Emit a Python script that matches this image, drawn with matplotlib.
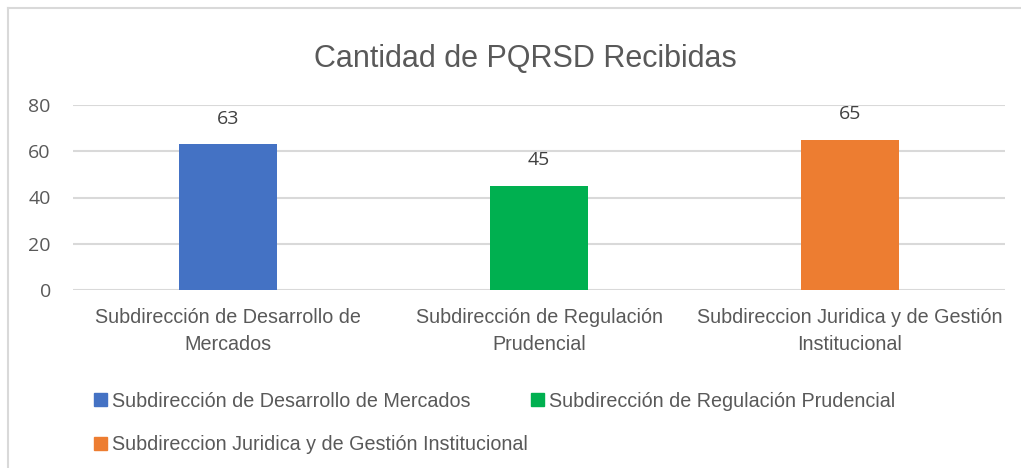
import matplotlib
matplotlib.use("Agg")
import matplotlib.pyplot as plt
from matplotlib import font_manager
from matplotlib.lines import Line2D
from matplotlib.patches import Rectangle

# chart data
categories = ["Subdirección de Desarrollo de\nMercados",
              "Subdirección de Regulación\nPrudencial",
              "Subdireccion Juridica y de Gestión\nInstitucional"]
legend_labels = ["Subdirección de Desarrollo de Mercados",
                 "Subdirección de Regulación Prudencial",
                 "Subdireccion Juridica y de Gestión Institucional"]
values = [63, 45, 65]
yticks = [0, 20, 40, 60, 80]
title = "Cantidad de PQRSD Recibidas"

colors = ["#4472C4", "#00B050", "#ED7D31"]
GREY = "#595959"

installed = {f.name for f in font_manager.fontManager.ttflist}
narrow = "Liberation Sans Narrow" if "Liberation Sans Narrow" in installed else "Liberation Sans"
body = "Open Sans"

W, H = 1021, 468
fig = plt.figure(figsize=(W / 100, H / 100), dpi=100)

# light frame: only the top and left edges show in the picture
frame = dict(transform=fig.transFigure, color="#D9D9D9", linewidth=1.5)
fig.lines.append(Line2D([8 / W, 1], [1 - 8 / H, 1 - 8 / H], **frame))
fig.lines.append(Line2D([8 / W, 8 / W], [0, 1 - 8 / H], **frame))

ax = fig.add_axes([73 / W, 1 - 290 / H, (1005 - 73) / W, (290 - 105) / H])
x = range(len(values))
bars = ax.bar(x, values, width=0.315, color=colors)

ax.set_xlim(-0.5, 2.5)
ax.set_ylim(0, 80)
ax.set_yticks(yticks)
ax.set_yticklabels([str(t) for t in yticks], fontfamily=body, fontsize=14, color=GREY)
ax.set_xticks(list(x))
ax.set_xticklabels(categories, fontfamily=narrow, fontsize=14.2, color=GREY, linespacing=1.5)
ax.tick_params(length=0)
ax.tick_params(axis="y", pad=16)
ax.tick_params(axis="x", pad=13)
ax.grid(axis="y", color="#D9D9D9", linewidth=1.5)
ax.set_axisbelow(True)
for s in ax.spines.values():
    s.set_visible(False)

for b, v in zip(bars, values):
    ax.annotate(str(v), (b.get_x() + b.get_width() / 2, v), xytext=(0, 12),
                textcoords="offset points", ha="center", va="bottom",
                fontfamily=body, fontsize=14, color="#404040")

fig.text(525 / W, 1 - 59 / H, title, ha="center", va="center",
         fontfamily=narrow, fontsize=22, color=GREY)

# Excel fills the legend row-wise, so feed entries 1, 3 then 2
order = [0, 2, 1]
handles = [Rectangle((0, 0), 1, 1, color=colors[i]) for i in order]
fig.legend(handles, [legend_labels[i] for i in order], ncol=2,
           loc="upper left", bbox_to_anchor=(76 / W, 1 - 374 / H),
           frameon=False, prop={"family": narrow, "size": 14.2},
           labelcolor=GREY, handlelength=0.65, handleheight=0.65,
           handletextpad=0.25, columnspacing=0.2, labelspacing=1.25)

fig.savefig("out.png", dpi=100)
